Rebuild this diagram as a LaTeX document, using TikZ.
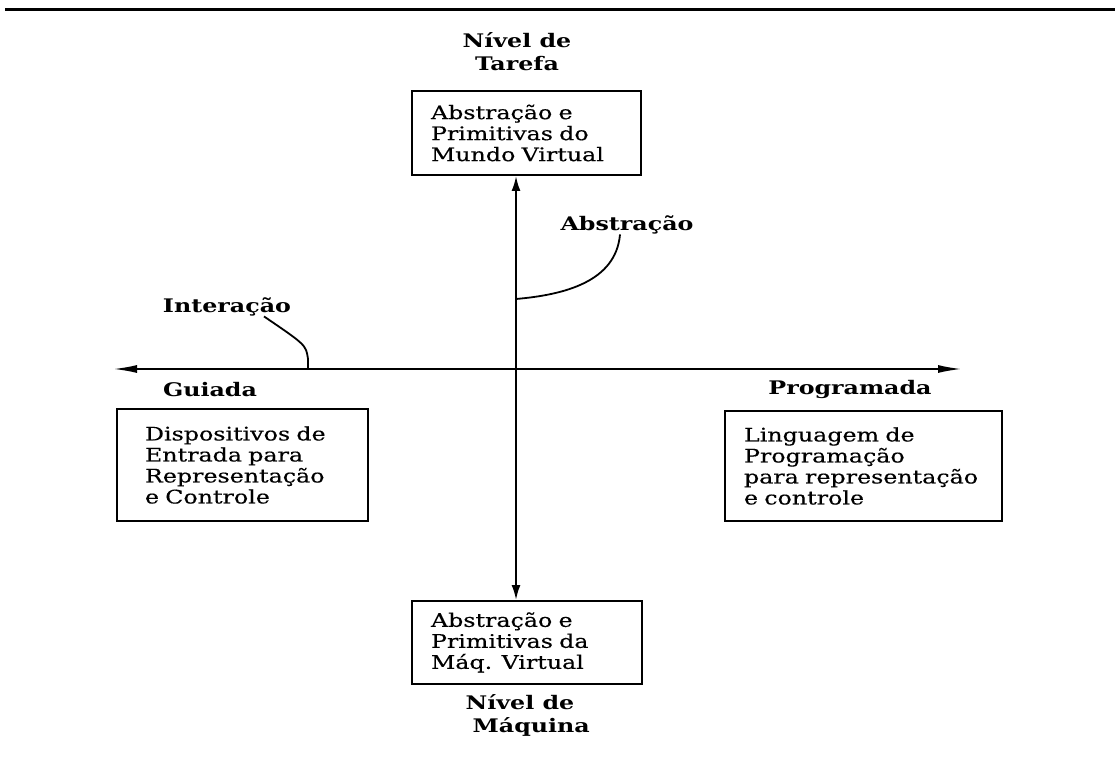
\documentclass[tikz,border=0pt]{standalone}
\usepackage{fontspec}
\setmainfont{DejaVu Serif}[FakeStretch=1.27, UprightFeatures={FakeBold=0.4}]
\usetikzlibrary{arrows.meta}

\tikzset{
    panel/.style={draw, line width=2pt, align=left, inner ysep=4pt,
        font=\fontsize{18.7}{21}\selectfont},
    tag/.style={align=center, inner sep=0pt,
        font=\fontsize{18.7}{23}\selectfont\bfseries},
    haxis/.style={line width=2pt, {Latex[length=24pt,width=8pt]}-{Latex[length=24pt,width=8pt]}},
    vaxis/.style={line width=2pt, {Latex[length=15pt,width=9pt]}-{Latex[length=15pt,width=9pt]}},
    lead/.style={line width=1.8pt}
}

\begin{document}
\begin{tikzpicture}[x=1pt, y=1pt]
\useasboundingbox (0,0) rectangle (1115,761);
% --- 上の罫線 ---
\draw[line width=3pt] (5,751) -- (1115,751);

    % --- 箱 ---
    \node [panel, text width=191pt, inner xsep=19pt, minimum height=84pt] (tbox) at (526.5,628)
        {Abstração e\\Primitivas do\\Mundo Virtual};
    \node [panel, text width=192pt, inner xsep=19pt, minimum height=83pt] (bbox) at (527,118.5)
        {Abstração e\\Primitivas da\\Máq. Virtual};
    \node [panel, text width=195pt, inner xsep=28pt, minimum height=112pt] (lbox) at (242.5,296)
        {Dispositivos de\\Entrada para\\Representação\\e Controle};
    \node [panel, text width=239pt, inner xsep=19pt, minimum height=110pt] (rbox) at (863.5,295)
        {Linguagem de\\Programação\\para representação\\e controle};

    % --- ラベル ---
    \node [tag] (tlvl) at (517,709) {Nível de\\Tarefa};
    \node [tag] (blvl) at (520,46) {Nível de\\\hspace*{1.2em}Máquina};
    \node [tag] (guide) at (210,371) {Guiada};
    \node [tag] (prog) at (850,372) {Programada};
    \node [tag] (abst) at (627,536) {Abstração};
    \node [tag] (inter) at (227,454) {Interação};

    % --- 軸 ---
    \coordinate (o) at (516,392);
    \coordinate (west) at (113,392);
    \coordinate (east) at (962,392);
    \draw [haxis] (west) -- (east);
    \draw [vaxis] (o |- tbox.south) -- (o |- bbox.north);

    % --- 引き出し線 ---
    \draw [lead] (o |- 0,462) to[out=5, in=-95] (abst.south -| 620,0);
    \draw [lead] (inter.south -| 264,0) .. controls (306,416) .. (308,402) -- (o -| 308,0);

\end{tikzpicture}
\end{document}
